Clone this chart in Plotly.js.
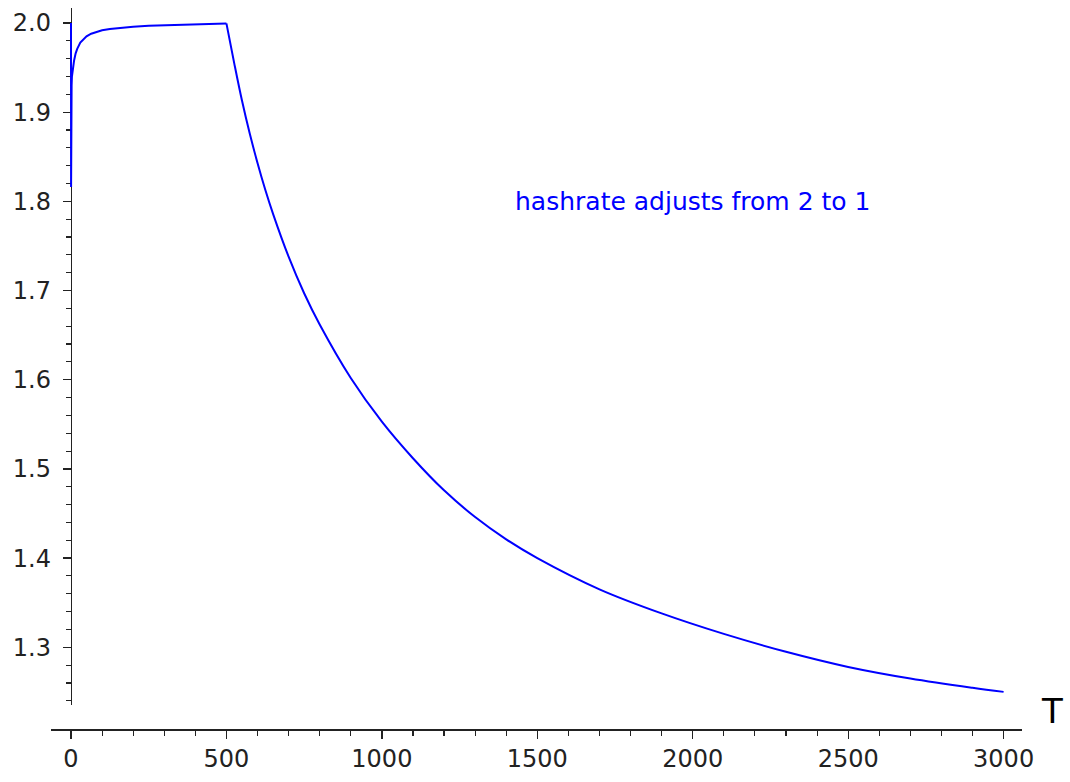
<!DOCTYPE html>
<html>
<head>
<meta charset="utf-8">
<script src="https://cdn.plot.ly/plotly-3.0.1.min.js"></script>
<style>html,body{margin:0;padding:0;background:#fff;}#chart{width:1070px;height:782px;}</style>
</head>
<body>
<div id="chart"></div>
<script>
// Time values (T) and the plotted quantity
const T_rise = [0, 0.3, 1, 2, 3, 5, 7, 10, 15, 20, 30, 40, 50, 65, 80, 100, 125, 150, 175, 200, 250, 300, 350, 400, 450, 500];
const Y_rise = [2.000, 1.816, 1.900, 1.930, 1.940, 1.947, 1.952, 1.958, 1.966, 1.971, 1.978, 1.982, 1.985, 1.988, 1.990, 1.9918, 1.9933, 1.9944, 1.9952, 1.9959, 1.9968, 1.9975, 1.998, 1.9985, 1.999, 1.9995];
const T_fall = [500, 525, 550, 575, 600, 625, 650, 700, 750, 800, 900, 1000, 1100, 1200, 1300, 1400, 1500, 1700, 1900, 2100, 2300, 2500, 2700, 2900, 3000];
const Y_fall = [1.9995, 1.955, 1.913, 1.876, 1.843, 1.813, 1.786, 1.738, 1.697, 1.662, 1.602, 1.553, 1.512, 1.476, 1.446, 1.421, 1.400, 1.365, 1.338, 1.315, 1.295, 1.278, 1.265, 1.2546, 1.250];
const xTicks = [0, 500, 1000, 1500, 2000, 2500, 3000];
const yTicks = [1.3, 1.4, 1.5, 1.6, 1.7, 1.8, 1.9, 2.0];
const noteText = "hashrate adjusts from 2 to 1";
const noteX = 2000, noteY = 1.8;
const axisLabel = "T";

const font = "DejaVu Sans, Liberation Sans, sans-serif";

const rise = {
  x: T_rise, y: Y_rise, type: 'scatter', mode: 'lines',
  line: {color: '#0000ff', width: 2},
  hoverinfo: 'skip', showlegend: false
};
const fall = {
  x: T_fall, y: Y_fall, type: 'scatter', mode: 'lines',
  line: {color: '#0000ff', width: 2, shape: 'spline', smoothing: 1},
  hoverinfo: 'skip', showlegend: false
};

const layout = {
  width: 1070, height: 782,
  margin: {l: 51, r: 48, t: 8, b: 53, pad: 0},
  paper_bgcolor: '#ffffff', plot_bgcolor: '#ffffff',
  showlegend: false,
  font: {family: font, size: 24, color: '#222222'},
  xaxis: {
    range: [-64.3, 3059.2],
    anchor: 'free', position: 0,
    showgrid: false, zeroline: false,
    showline: true, linecolor: '#222222', linewidth: 1.5,
    ticks: 'outside', ticklen: 8, tickwidth: 1.3, tickcolor: '#222222',
    tickmode: 'array', tickvals: xTicks, ticktext: xTicks.map(String),
    tickfont: {family: font, size: 24, color: '#222222'},
    minor: {ticks: 'outside', dtick: 100, tick0: 0, ticklen: 5, tickwidth: 1.1, tickcolor: '#222222', showgrid: false},
    layer: 'below traces'
  },
  yaxis: {
    range: [1.2353, 2.0168],
    domain: [0.0333, 1],
    anchor: 'free', position: 0.0203,
    showgrid: false, zeroline: false,
    showline: true, linecolor: '#222222', linewidth: 1.5,
    ticks: 'outside', ticklen: 8, tickwidth: 1.3, tickcolor: '#222222',
    ticklabelstandoff: 7,
    tickmode: 'array', tickvals: yTicks, ticktext: yTicks.map(v => v.toFixed(1)),
    tickfont: {family: font, size: 24, color: '#222222'},
    minor: {ticks: 'outside', dtick: 0.02, tick0: 1.2, ticklen: 5, tickwidth: 1.1, tickcolor: '#222222', showgrid: false},
    layer: 'below traces'
  },
  annotations: [
    {x: noteX, y: noteY, xref: 'x', yref: 'y', text: noteText, showarrow: false,
     xanchor: 'center', yanchor: 'middle',
     font: {family: font, size: 25, color: '#0000ff'}},
    {x: 1.031, y: 0.025, xref: 'paper', yref: 'paper', text: axisLabel, showarrow: false,
     xanchor: 'center', yanchor: 'middle',
     font: {family: font, size: 34, color: '#000000'}}
  ]
};

Plotly.newPlot('chart', [rise, fall], layout, {staticPlot: true, displayModeBar: false});
</script>
</body>
</html>
